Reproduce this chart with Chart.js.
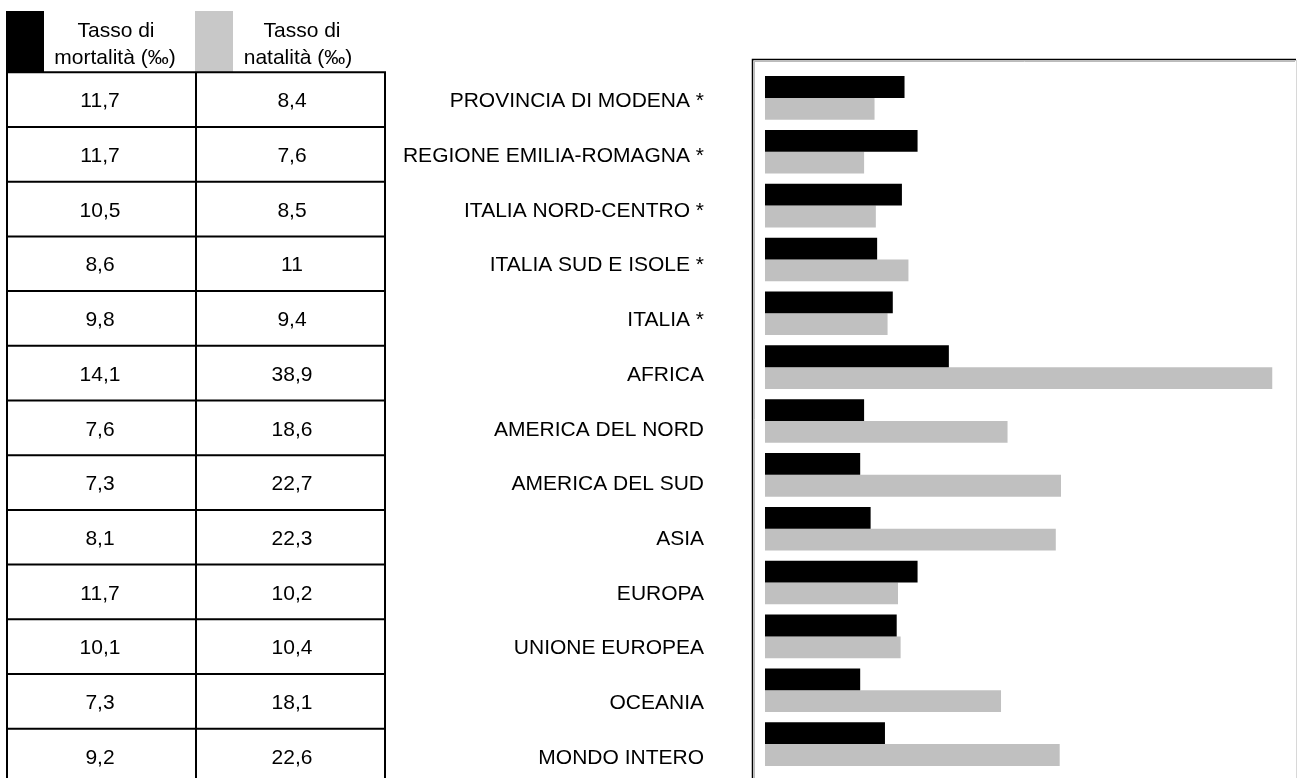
<!DOCTYPE html>
<html>
<head>
<meta charset="utf-8">
<script src="https://cdn.jsdelivr.net/npm/chart.js@4/dist/chart.umd.min.js"></script>
<style>
  html, body { margin: 0; padding: 0; background: #fff; overflow: hidden; }
  #wrap { position: relative; width: 1297px; height: 778px; }
</style>
</head>
<body>
<div id="wrap"><canvas id="chart"></canvas></div>
<script>
// ------------------------- DATA -------------------------
const categories = [
    "PROVINCIA DI MODENA *",
    "REGIONE EMILIA-ROMAGNA *",
    "ITALIA NORD-CENTRO *",
    "ITALIA SUD E ISOLE *",
    "ITALIA *",
    "AFRICA",
    "AMERICA DEL NORD",
    "AMERICA DEL SUD",
    "ASIA",
    "EUROPA",
    "UNIONE EUROPEA",
    "OCEANIA",
    "MONDO INTERO"
];

// bars as drawn in the picture (first black bar is shorter than its table value)
const mortalita = [10.7, 11.7, 10.5, 8.6, 9.8, 14.1, 7.6, 7.3, 8.1, 11.7, 10.1, 7.3, 9.2];
const natalita  = [8.4, 7.6, 8.5, 11, 9.4, 38.9, 18.6, 22.7, 22.3, 10.2, 10.4, 18.1, 22.6];

// values printed in the table
const tabMortalita = ["11,7", "11,7", "10,5", "8,6", "9,8", "14,1", "7,6", "7,3", "8,1", "11,7", "10,1", "7,3", "9,2"];
const tabNatalita  = ["8,4", "7,6", "8,5", "11", "9,4", "38,9", "18,6", "22,7", "22,3", "10,2", "10,4", "18,1", "22,6"];

const headMortalita = ["Tasso di", "mortalità (‰)"];
const headNatalita  = ["Tasso di", "natalità (‰)"];

const FONT = '21px "Liberation Sans", Arial, sans-serif';

// ------------------------- TABLE + LABELS + BOX -------------------------
const tablePlugin = {
    id: "tablePlugin",
    beforeDatasetsDraw(chart) {
        const ctx = chart.ctx;
        ctx.save();

        // plot frame: dark top/left, light right edge
        ctx.strokeStyle = "#000";
        ctx.lineWidth = 1.5;
        ctx.beginPath();
        ctx.moveTo(752.5, 778); ctx.lineTo(752.5, 59.5); ctx.lineTo(1296, 59.5);
        ctx.stroke();
        ctx.strokeStyle = "#bbb";
        ctx.lineWidth = 1;
        ctx.beginPath();
        ctx.moveTo(754, 61.5); ctx.lineTo(1295, 61.5);
        ctx.moveTo(754.5, 61); ctx.lineTo(754.5, 778);
        ctx.stroke();
        ctx.strokeStyle = "#d8d8d8";
        ctx.beginPath();
        ctx.moveTo(1296.5, 60); ctx.lineTo(1296.5, 778);
        ctx.stroke();

        // legend swatches in the header
        ctx.fillStyle = "#000";
        ctx.fillRect(6, 11, 38, 61);
        ctx.fillStyle = "#c8c8c8";
        ctx.fillRect(195, 11, 38, 61);

        ctx.font = FONT;
        ctx.fillStyle = "#000";
        ctx.textAlign = "center";
        ctx.textBaseline = "alphabetic";
        ctx.fillText(headMortalita[0], 116, 36.5);
        ctx.fillText(headMortalita[1], 115, 64);
        ctx.fillText(headNatalita[0], 302, 36.5);
        ctx.fillText(headNatalita[1], 298, 64);

        // table grid
        const top = 72.3, pitch = 54.7;
        const n = categories.length;
        ctx.strokeStyle = "#000";
        ctx.lineWidth = 2;
        ctx.beginPath();
        for (let i = 0; i <= n; i++) {
            const y = top + i * pitch;
            ctx.moveTo(6, y); ctx.lineTo(386, y);
        }
        [7, 196, 385].forEach(x => {
            ctx.moveTo(x, top); ctx.lineTo(x, top + n * pitch);
        });
        ctx.stroke();

        // cell values and category labels
        categories.forEach((c, i) => {
            const base = top + i * pitch + 35;
            ctx.textAlign = "center";
            ctx.fillText(tabMortalita[i], 100, base);
            ctx.fillText(tabNatalita[i], 292, base);
            ctx.textAlign = "right";
            ctx.fillText(c, 704, base);
        });

        ctx.restore();
    }
};

// ------------------------- CHART -------------------------
const canvas = document.getElementById("chart");
canvas.width = 1297;
canvas.height = 778;

new Chart(canvas, {
    type: "bar",
    data: {
        labels: categories,
        datasets: [
            {
                label: "Tasso di mortalità (‰)",
                data: mortalita,
                backgroundColor: "#000000",
                barPercentage: 1,
                categoryPercentage: 0.81
            },
            {
                label: "Tasso di natalità (‰)",
                data: natalita,
                backgroundColor: "#c0c0c0",
                barPercentage: 1,
                categoryPercentage: 0.81
            }
        ]
    },
    options: {
        indexAxis: "y",
        responsive: false,
        animation: false,
        layout: { padding: { left: 765, right: 10.4, top: 71, bottom: 7 } },
        plugins: {
            legend: { display: false },
            tooltip: { enabled: false }
        },
        scales: {
            x: { display: false, min: 0, max: 40 },
            y: { display: false }
        }
    },
    plugins: [tablePlugin]
});
</script>
</body>
</html>
